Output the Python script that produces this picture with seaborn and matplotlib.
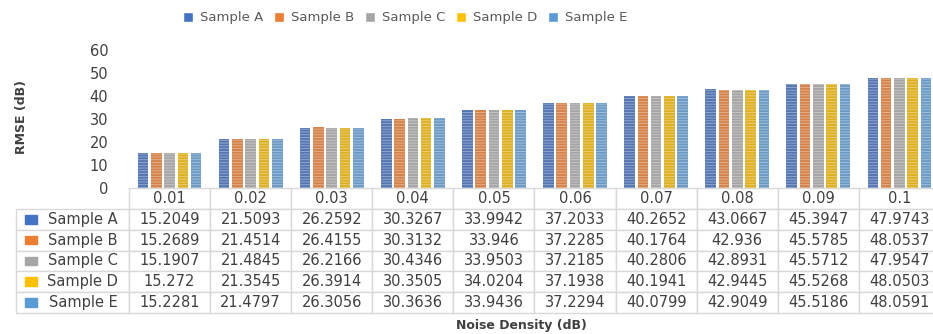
import matplotlib
matplotlib.use("Agg")
import matplotlib.pyplot as plt
from matplotlib.patches import Patch, Rectangle
from matplotlib.table import Table
import pandas as pd
import seaborn as sns

densities = ["0.01", "0.02", "0.03", "0.04", "0.05", "0.06", "0.07", "0.08", "0.09", "0.1"]
samples = ["Sample A", "Sample B", "Sample C", "Sample D", "Sample E"]
sample_a = [15.2049, 21.5093, 26.2592, 30.3267, 33.9942, 37.2033, 40.2652, 43.0667, 45.3947, 47.9743]
sample_b = [15.2689, 21.4514, 26.4155, 30.3132, 33.946, 37.2285, 40.1764, 42.936, 45.5785, 48.0537]
sample_c = [15.1907, 21.4845, 26.2166, 30.4346, 33.9503, 37.2185, 40.2806, 42.8931, 45.5712, 47.9547]
sample_d = [15.272, 21.3545, 26.3914, 30.3505, 34.0204, 37.1938, 40.1941, 42.9445, 45.5268, 48.0503]
sample_e = [15.2281, 21.4797, 26.3056, 30.3636, 33.9436, 37.2294, 40.0799, 42.9049, 45.5186, 48.0591]
colors = ["#4472C4", "#ED7D31", "#A5A5A5", "#FFC000", "#5B9BD5"]

series = [sample_a, sample_b, sample_c, sample_d, sample_e]
rows = []
for name, vals in zip(samples, series):
    for d, v in zip(densities, vals):
        rows.append({"density": d, "rmse": v, "sample": name})
df = pd.DataFrame(rows)

sns.set_theme(style="white")
plt.rcParams["font.family"] = ["DejaVu Sans"]
plt.rcParams["hatch.linewidth"] = 0.6
txt = "#404040"

fig = plt.figure(figsize=(9.33, 3.34), dpi=100)
ax = fig.add_axes([129 / 933, 146 / 334, 811 / 933, 137.5 / 334])

sns.barplot(data=df, x="density", y="rmse", hue="sample", palette=colors,
            width=0.82, gap=0.2, legend=False, ax=ax)
for bar in ax.patches:
    bar.set_hatch("------")
    bar.set_edgecolor((1, 1, 1, 0.4))
    bar.set_linewidth(0)

ax.set_ylim(0, 60)
ax.set_yticks(range(0, 61, 10))
ax.tick_params(axis="y", length=0, labelsize=10.5, labelcolor=txt, pad=15)
ax.set_xticks([])
ax.set_xlabel("")
ax.set_ylabel("")
for s in ax.spines.values():
    s.set_visible(False)

# data table under the bars (bbox covers only the value columns,
# the row-label column hangs to the left of it)
th = 125 / 137.5
tab = Table(ax, bbox=[0, -th, 1, th])
rh = th / 6
lw = 113 / 811
cw = 1 / 10
for j, d in enumerate(densities):
    tab.add_cell(0, j, cw, rh, text=d, loc="center")
for i, (name, vals) in enumerate(zip(samples, series), start=1):
    tab.add_cell(i, -1, lw, rh, text=name, loc="right")
    for j, v in enumerate(vals):
        tab.add_cell(i, j, cw, rh, text=str(v), loc="center")
tab.auto_set_font_size(False)
tab.set_fontsize(10.5)
for cell in tab.get_celld().values():
    cell.set_edgecolor("#D9D9D9")
    cell.set_linewidth(1)
    cell.get_text().set_color(txt)
ax.add_table(tab)

for i, c in enumerate(colors, start=1):
    yc = -(i + 0.5) * rh
    ax.add_patch(Rectangle(((25 - 129) / 811, yc - 0.032), 12 / 811, 0.064,
                           transform=ax.transAxes, color=c, clip_on=False))

handles = [Patch(facecolor=c, label=n) for c, n in zip(colors, samples)]
fig.legend(handles=handles, loc="center", bbox_to_anchor=(405 / 933, 1 - 18 / 334),
           ncol=5, frameon=False, fontsize=9.5, handlelength=0.8, handleheight=0.8,
           handletextpad=0.5, columnspacing=0.8, labelcolor="#595959")

fig.text(22 / 933, 1 - 117 / 334, "RMSE (dB)", rotation=90, ha="center", va="center",
         fontsize=9, fontweight="bold", color=txt)
fig.text(521 / 933, 1 - 325 / 334, "Noise Density (dB)", ha="center", va="center",
         fontsize=9, fontweight="bold", color=txt)

fig.savefig("out.png", dpi=100, facecolor="white")
